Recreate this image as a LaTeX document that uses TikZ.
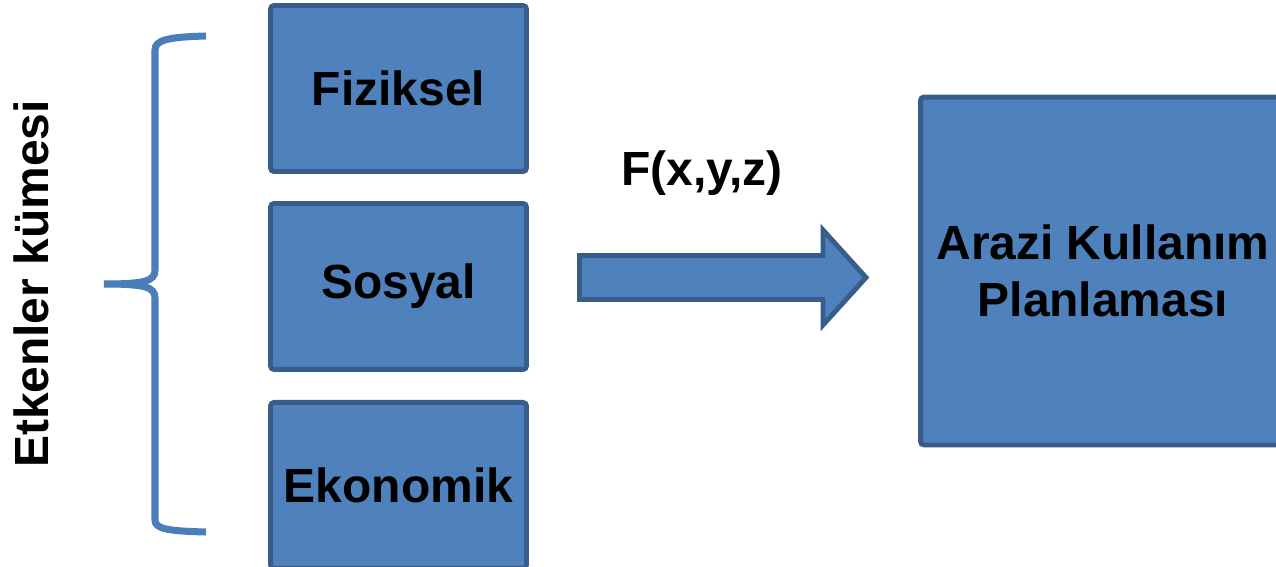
\documentclass[tikz,border=0pt]{standalone}
\usepackage{fontspec}
\setmainfont{Liberation Sans}
\usetikzlibrary{positioning}

\definecolor{kutumavi}{HTML}{4F81BD}
\definecolor{kenarmavi}{HTML}{385D8A}
\definecolor{parantezmavi}{HTML}{4A7EBB}

\tikzset{
  kutu/.style={draw=kenarmavi, fill=kutumavi, line width=2.8pt, rounded corners=2pt,
    outer sep=0pt, minimum width=5.12cm, minimum height=3.32cm, align=center},
  yazi/.style={font=\fontsize{27.3}{32.4}\selectfont\bfseries},
}

\begin{document}
\begin{tikzpicture}[x=0.02cm, y=-0.02cm]
    \clip (0, 0) rectangle (1276, 566);

    \node [kutu, yazi] (fiziksel) at (398.5, 88.5) {Fiziksel};
    \node [kutu, yazi, below=0.64cm of fiziksel] (sosyal) {Sosyal};
    \node [kutu, yazi, below=0.66cm of sosyal] (ekonomik) {Ekonomik};

    \node [kutu, yazi, minimum width=7.3cm, minimum height=6.96cm] (plan) at (1103, 271) {Arazi Kullanım\\Planlaması};

    % blok ok
    \draw [draw=kenarmavi, fill=kutumavi, line width=2.8pt] (579.5, 255.5) -- (823, 255.5) -- (823, 230) -- (866, 277.5) -- (823, 325) -- (823, 299.5) -- (579.5, 299.5) -- cycle;
    \node [yazi] (fonk) at (702, 173) {F(x,y,z)};

    % parantez
    \draw [parantezmavi, line width=4pt] (206, 36) .. controls (168, 37) and (155, 40) .. (155, 50) -- (155, 270) .. controls (155, 281) and (145, 284) .. (104, 284) .. controls (145, 284) and (155, 287) .. (155, 298) -- (155, 520) .. controls (155, 529) and (168, 531) .. (206, 532);
    \node [yazi, rotate=90] (etken) at (31, 284) {Etkenler kümesi};
\end{tikzpicture}
\end{document}
